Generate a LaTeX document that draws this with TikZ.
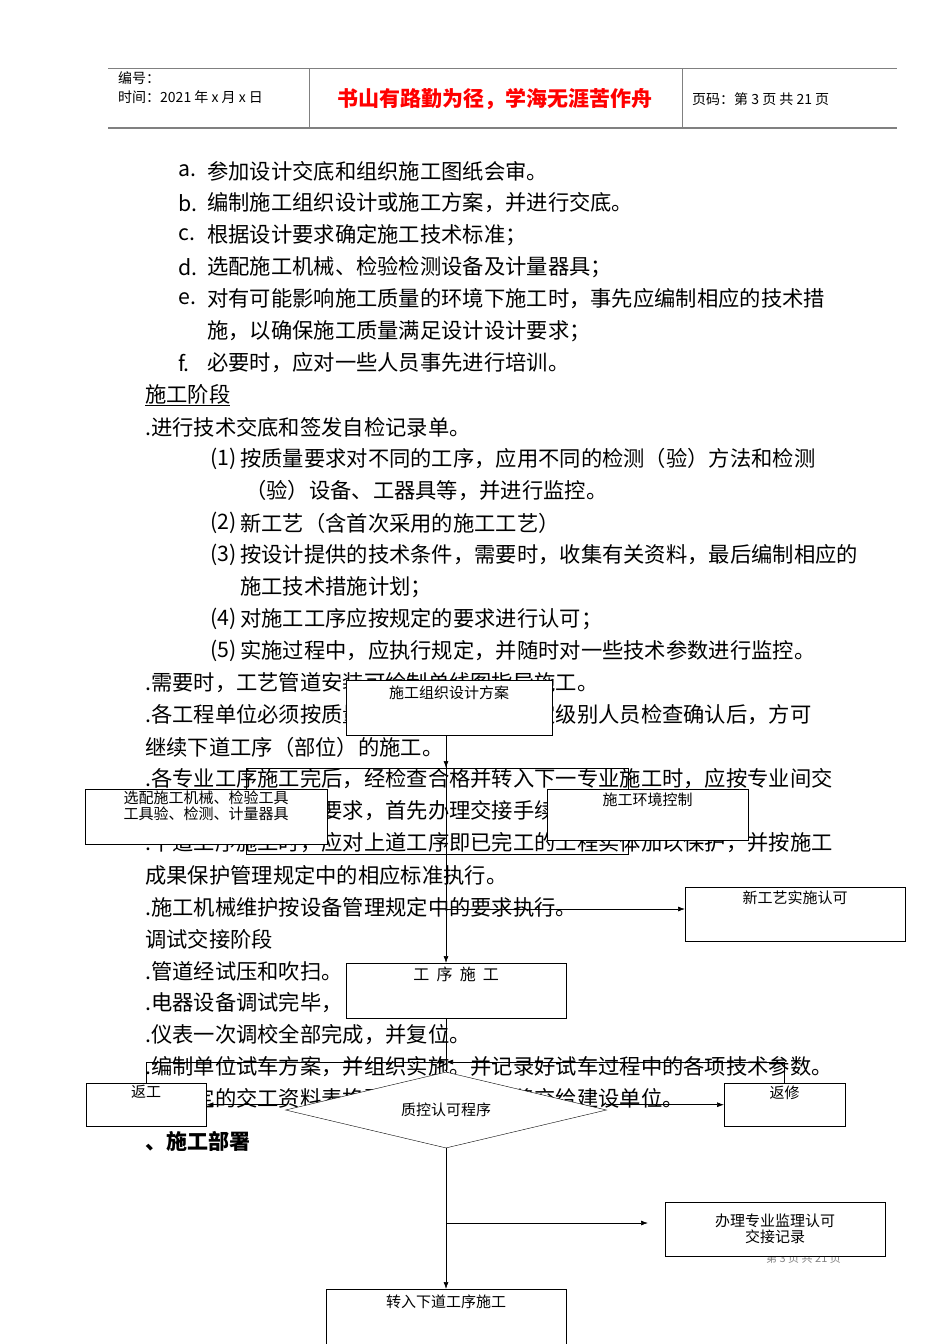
\documentclass[tikz,border=0pt]{standalone}
\usepackage{fontspec}
\setmainfont{Noto Sans CJK SC}
\usetikzlibrary{shapes.geometric,arrows.meta}
\begin{document}
\begin{tikzpicture}[x=1pt,y=-1pt,
  body/.style={anchor=west,inner sep=0,font=\fontsize{21.3}{22}\selectfont},
  bx/.style={draw,fill=white,anchor=north west,inner sep=0,font=\fontsize{15}{16}\selectfont,align=center},
  ln/.style={line width=0.7pt},
  ar/.style={line width=0.7pt,-{Latex[length=7pt,width=5pt]}}]
\useasboundingbox (0,0) rectangle (950,1344);
% header
\draw[line width=0.6pt,gray] (108,68) -- (897,68);
\draw[line width=1.2pt,gray] (108,128) -- (897,128);
\draw[gray] (309,68) -- (309,128) (682,68) -- (682,128);
\node[anchor=west,inner sep=0,font=\fontsize{14}{15}\selectfont] (h1) at (118,78) {编号：};
\node[anchor=west,inner sep=0,font=\fontsize{14}{15}\selectfont] (h2) at (118,97) {时间：2021 年 x 月 x 日};
\node[inner sep=0,text=red,font=\fontsize{21}{22}\bfseries\selectfont] (h3) at (495,99) {书山有路勤为径，学海无涯苦作舟};
\node[anchor=west,inner sep=0,font=\fontsize{14}{15}\selectfont] (h4) at (692,99) {页码：第 3 页 共 21 页};
% body
\foreach \i/\y/\l/\t in {1/171/a./参加设计交底和组织施工图纸会审。,2/203/b./编制施工组织设计或施工方案，并进行交底。,3/235/c./根据设计要求确定施工技术标准；,4/267/d./选配施工机械、检验检测设备及计量器具；,5/299/e./对有可能影响施工质量的环境下施工时，事先应编制相应的技术措,6/363/f./必要时，应对一些人员事先进行培训。}{
  \node[body] (l\i) at (178,\y) {\l};
  \node[body] (t\i) at (207,\y) {\t};}
\node[body] (e2) at (207,331) {施，以确保施工质量满足设计设计要求；};
\node[body] (s1) at (145,395) {\underline{施工阶段}};
\node[body] (s2) at (145,427) {.进行技术交底和签发自检记录单。};
\foreach \i/\y/\l/\t in {1/459/(1)/按质量要求对不同的工序，应用不同的检测（验）方法和检测,2/523/(2)/新工艺（含首次采用的施工工艺）,3/555/(3)/按设计提供的技术条件，需要时，收集有关资料，最后编制相应的,4/619/(4)/对施工工序应按规定的要求进行认可；,5/651/(5)/实施过程中，应执行规定，并随时对一些技术参数进行监控。}{
  \node[body] (n\i) at (210,\y) {\l};
  \node[body] (m\i) at (240,\y) {\t};}
\node[body] (m1b) at (245,491) {（验）设备、工器具等，并进行监控。};
\node[body] (m3b) at (240,587) {施工技术措施计划；};
\foreach \i/\y/\t in {1/683/.需要时，工艺管道安装可绘制单线图指导施工。,2/715/.各工程单位必须按质量检验评定标准经规定级别人员检查确认后，方可,3/747/继续下道工序（部位）的施工。,4/779/.各专业工序施工完后，经检查合格并转入下一专业施工时，应按专业间交,5/811/.接（检查记录）的要求，首先办理交接手续。,6/843/.下道工序施工时，应对上道工序即已完工的工程实体加以保护，并按施工,7/875/成果保护管理规定中的相应标准执行。,8/907/.施工机械维护按设备管理规定中的要求执行。,9/939/调试交接阶段,10/971/.管道经试压和吹扫。,11/1003/.电器设备调试完毕，,12/1035/.仪表一次调校全部完成，并复位。,13/1067/.编制单位试车方案，并组织实施。并记录好试车过程中的各项技术参数。,14/1099/.按规定的交工资料表格要求整理成册，移交给建设单位。}{
  \node[body] (p\i) at (145,\y) {\t};}
\node[body,font=\fontsize{21}{22}\bfseries\selectfont] (p15) at (145,1141) {、施工部署};
\node[anchor=west,inner sep=0,font=\fontsize{11}{12}\selectfont,gray] (ft) at (766,1258) {第 3 页 共 21 页};
% flowchart
\node[bx,minimum width=206pt,minimum height=55pt] (A) at (346,680) {施工组织设计方案\\[16pt]};
\node[draw,ln,anchor=north west,minimum width=382pt,minimum height=86pt,inner sep=0] (big) at (246,768) {};
\node[bx,minimum width=242pt,minimum height=55pt,align=left] (sel) at (85,789) {选配施工机械、检验工具\\工具验、检测、计量器具\\[8pt]};
\node[bx,minimum width=201pt,minimum height=51pt] (env) at (547,789) {施工环境控制\\[16pt]};
\node[bx,minimum width=220pt,minimum height=54pt] (new) at (685,887) {新工艺实施认可\\[18pt]};
\node[bx,minimum width=220pt,minimum height=55pt,font=\fontsize{16}{17}\selectfont] (proc) at (346,963) {工\ \ 序\ \ 施\ \ 工\\[16pt]};
\node[draw,fill=white,diamond,inner sep=0,minimum width=321pt,minimum height=76pt,shape aspect=4.2,font=\fontsize{15}{16}\selectfont] (dia) at (446,1110) {质控认可程序};
\node[bx,minimum width=120pt,minimum height=43pt] (rw) at (86,1083) {返工\\[10pt]};
\node[bx,minimum width=121pt,minimum height=43pt] (rp) at (724,1083) {返修\\[10pt]};
\node[bx,minimum width=220pt,minimum height=54pt] (rec) at (665,1202) {办理专业监理认可\\交接记录};
\node[bx,minimum width=240pt,minimum height=55pt] (nxt) at (326,1289) {转入下道工序施工\\[16pt]};
\coordinate (j1) at (446,909);
\coordinate (j2) at (446,1223);
\coordinate (j3) at (446,1062);
\draw[ar] (A.south -| dia.north) -- (big.north -| dia.north);
\draw[ar] (A.south -| dia.north) -- (proc.north -| dia.north);
\draw[ar] (j1) -- (j1 -| new.west);
\draw[ln] (proc.south -| dia.north) -- (dia.north);
\draw[ar] (rw.east -| 286,0) -- (rw.east);
\draw[ar] (rp.west -| 606,0) -- (rp.west);
\draw[ar] (rw.north) |- (j3);
\draw[ar] (rp.north) |- (j3);
\draw[ar] (dia.south) -- (nxt.north -| dia.south);
\draw[ar] (j2) -- (648,1223);
\end{tikzpicture}
\end{document}
